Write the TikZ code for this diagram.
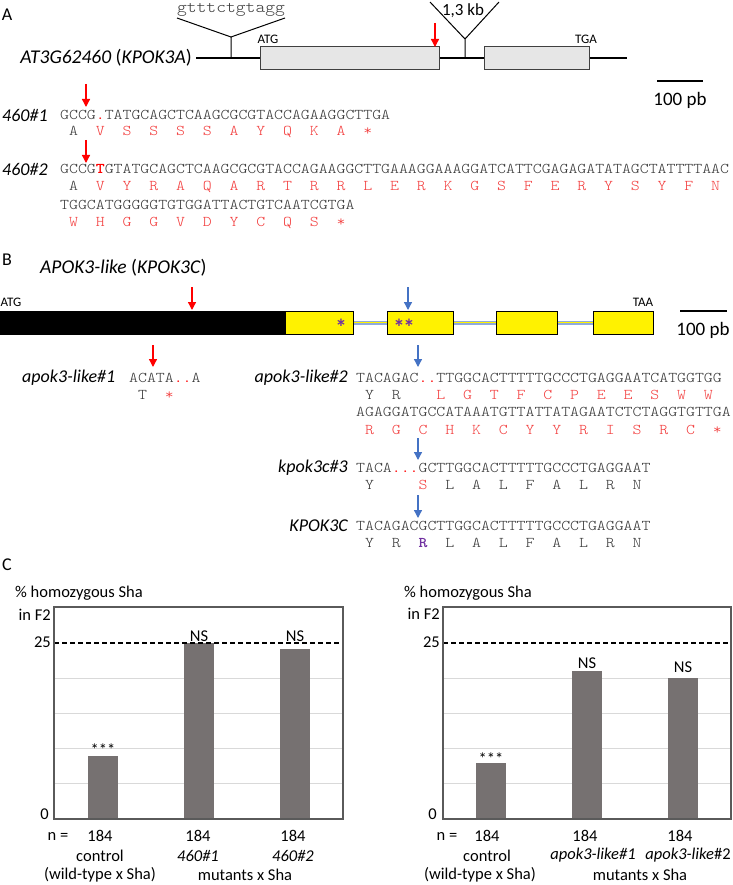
\documentclass[tikz,border=0pt]{standalone}
\usepackage{fontspec}
\setmainfont{Carlito}
\newfontfamily\seqfont[FakeStretch=1.14]{Latin Modern Mono Light}
\usetikzlibrary{arrows.meta}

\definecolor{seqgray}{RGB}{55,55,55}
\definecolor{mutred}{RGB}{255,0,0}
\definecolor{aared}{RGB}{242,60,60}
\definecolor{cutblue}{RGB}{68,114,196}
\definecolor{starpurple}{RGB}{112,48,160}
\definecolor{exongray}{RGB}{230,230,230}
\definecolor{intronblue}{RGB}{143,170,220}
\definecolor{bargray}{RGB}{118,113,113}
\definecolor{gridgray}{RGB}{217,217,217}
\definecolor{framegray}{RGB}{90,90,90}

\newcommand{\mutc}[1]{\textcolor{mutred}{#1}}
\newcommand{\aac}[1]{\textcolor{aared}{#1}}

\begin{document}
\frenchspacing
\begin{tikzpicture}
[x=1pt,y=-1pt,
  panelLbl/.style={inner sep=0pt,font=\fontsize{18}{20}\selectfont},
  geneLbl/.style={inner sep=0pt,font=\fontsize{19.5}{22}\selectfont\itshape},
  alleleLbl/.style={inner sep=0pt,font=\fontsize{18}{20}\selectfont\itshape},
  codonLbl/.style={inner sep=0pt,font=\fontsize{13}{15}\selectfont},
  seqLine/.style={anchor=west,inner sep=0pt,text=seqgray,font=\seqfont\fontsize{14.9}{16}\selectfont},
  geneLine/.style={line width=2.4pt},
  exonA/.style={draw=black!75,fill=exongray,line width=1pt,minimum height=23pt,inner sep=0pt},
  exonB/.style={draw=black,fill=yellow,line width=1pt,minimum height=23pt,inner sep=0pt},
  intron/.style={draw=intronblue,double=yellow,double distance=1.6pt,line width=1.2pt},
  cutRed/.style={mutred,line width=1.3pt,-{Triangle[length=8pt,width=8pt]}},
  cutBlue/.style={cutblue,line width=1.3pt,-{Triangle[length=8pt,width=8pt]}},
  scaleBar/.style={line width=2.2pt},
  starLbl/.style={inner sep=0pt,text=starpurple,font=\fontsize{23}{25}\selectfont\bfseries},
  chartTxt/.style={inner sep=0pt,font=\fontsize{16.5}{19}\selectfont},
  gridLine/.style={draw=gridgray,line width=1pt},
  refLine/.style={line width=1.5pt,dash pattern=on 5pt off 3pt},
  frameLine/.style={draw=framegray,line width=1.2pt},
  barFill/.style={fill=bargray}]
\useasboundingbox (0,0) rectangle (732,885);

%% ---------------- panel A : gene model
\node[panelLbl] (pA) at (7,15) {A};
\node[geneLbl,anchor=east] (kpok3a) at (192,58) {AT3G62460 \textup{(}KPOK3A\textup{)}};
\coordinate (geneAs) at (196,58);
\coordinate (geneAe) at (627,58);
\draw[geneLine] (geneAs) -- (geneAe);
\node[exonA,minimum width=179pt] (exA1) at (349.5,58.5) {};
\node[exonA,minimum width=105pt] (exA2) at (536.5,58.5) {};
\node[codonLbl] (atgA) at (268,39) {ATG};
\node[codonLbl] (tgaA) at (586,39) {TGA};

%% insertions
\coordinate (in1) at (231,58);
\coordinate (in1v) at (231,37);
\coordinate (in1l) at (177,18);
\coordinate (in1r) at (285,18);
\draw[line width=1pt] (in1) -- (in1v) (in1l) -- (in1v) -- (in1r);
\node[inner sep=0pt,text=seqgray,font=\seqfont\fontsize{16.4}{18}\selectfont] (in1seq) at (231,10) {gtttctgtagg};
\coordinate (in2) at (465,58);
\coordinate (in2v) at (465,39);
\coordinate (in2l) at (430,2);
\coordinate (in2r) at (499,2);
\draw[line width=1pt] (in2) -- (in2v) (in2l) -- (in2v) -- (in2r);
\node[inner sep=0pt,font=\fontsize{17}{19}\selectfont] (in2lbl) at (463,11) {1,3 kb};

\coordinate (cutAtop) at (435,23);
\coordinate (cutA) at (435,47);
\draw[cutRed] (cutAtop) -- (cutA);

\coordinate (sbA1) at (657,81);
\coordinate (sbA2) at (703,81);
\draw[scaleBar] (sbA1) -- (sbA2);
\node[inner sep=0pt,font=\fontsize{19}{21}\selectfont] (sbAlbl) at (680,100) {100 pb};

%% panel A : alleles
\node[alleleLbl,anchor=west] (a460n1) at (2,115) {460\#1};
\node[seqLine] (s460n1) at (60,115) {GCCG\mutc{.}TATGCAGCTCAAGCGCGTACCAGAAGGCTTGA};
\node[seqLine] (p460n1) at (60,132) {~A~~\aac{V~~S~~S~~S~~S~~A~~Y~~Q~~K~~A~~*}};
\coordinate (c460n1t) at (86,84);
\coordinate (c460n1) at (86,107);
\draw[cutRed] (c460n1t) -- (c460n1);

\node[alleleLbl,anchor=west] (a460n2) at (2,169) {460\#2};
\node[seqLine] (s460n2) at (60,169) {GCCG\mutc{\textbf{T}}GTATGCAGCTCAAGCGCGTACCAGAAGGCTTGAAAGGAAAGGATCATTCGAGAGATATAGCTATTTTAAC};
\node[seqLine] (p460n2) at (60,187) {~A~~\aac{V~~Y~~R~~A~~Q~~A~~R~~T~~R~~R~~L~~E~~R~~K~~G~~S~~F~~E~~R~~Y~~S~~Y~~F~~N}};
\node[seqLine] (s460n2b) at (60,205) {TGGCATGGGGGTGTGGATTACTGTCAATCGTGA};
\node[seqLine] (p460n2b) at (60,223) {~\aac{W~~H~~G~~G~~V~~D~~Y~~C~~Q~~S~~*}};
\coordinate (c460n2t) at (86,140);
\coordinate (c460n2) at (86,163);
\draw[cutRed] (c460n2t) -- (c460n2);

%% ---------------- panel B : gene model
\node[panelLbl] (pB) at (7,260) {B};
\node[geneLbl,anchor=west] (apok3) at (40,268) {APOK3-like \textup{(}KPOK3C\textup{)}};
\node[codonLbl] (atgB) at (11,302) {ATG};
\node[codonLbl] (taaB) at (643,302) {TAA};
\node[draw=black,fill=black,minimum width=285pt,minimum height=23pt,inner sep=0pt] (exB0) at (142.5,322.5) {};
\node[exonB,minimum width=68pt] (exB1) at (319,322.5) {};
\node[exonB,minimum width=66pt] (exB2) at (420,322.5) {};
\node[exonB,minimum width=61pt] (exB3) at (526.5,322.5) {};
\node[exonB,minimum width=60pt] (exB4) at (623,322.5) {};
\foreach \a/\b in {exB1/exB2, exB2/exB3, exB3/exB4}
{
  \draw[intron] (\a.east) -- (\b.west);
}
\node[starLbl] (star1) at (341,327) {*};
\node[starLbl] (star2) at (404,327) {*\kern-1.5pt*};

\coordinate (cutB1t) at (192,287);
\coordinate (cutB1) at (192,310);
\draw[cutRed] (cutB1t) -- (cutB1);
\coordinate (cutB2t) at (408,287);
\coordinate (cutB2) at (408,310);
\draw[cutBlue] (cutB2t) -- (cutB2);

\coordinate (sbB1) at (680,311);
\coordinate (sbB2) at (727,311);
\draw[scaleBar] (sbB1) -- (sbB2);
\node[inner sep=0pt,font=\fontsize{19}{21}\selectfont] (sbBlbl) at (703,330) {100 pb};

%% panel B : alleles
\node[alleleLbl,anchor=west] (al1) at (22,378) {apok3-like\#1};
\node[seqLine] (sl1) at (129,378) {ACATA\mutc{..}A};
\node[seqLine] (pl1) at (129,395) {~T~~\aac{*}};
\coordinate (cl1t) at (153,345);
\coordinate (cl1) at (153,367);
\draw[cutRed] (cl1t) -- (cl1);

\node[alleleLbl,anchor=east] (al2) at (348,378) {apok3-like\#2};
\node[seqLine] (sl2) at (356,378) {TACAGAC\mutc{..}TTGGCACTTTTTGCCCTGAGGAATCATGGTGG};
\node[seqLine] (pl2) at (356,395) {~Y~~R~~~~\aac{L~~G~~T~~F~~C~~P~~E~~E~~S~~W~~W}};
\node[seqLine] (sl2b) at (356,412) {AGAGGATGCCATAAATGTTATTATAGAATCTCTAGGTGTTGA};
\node[seqLine] (pl2b) at (356,429.5) {~\aac{R~~G~~C~~H~~K~~C~~Y~~Y~~R~~I~~S~~R~~C~~*}};
\coordinate (cl2t) at (418,345);
\coordinate (cl2) at (418,367);
\draw[cutBlue] (cl2t) -- (cl2);

\node[alleleLbl,anchor=east] (kc3) at (348,468) {kpok3c\#3};
\node[seqLine] (skc3) at (356,468) {TACA\mutc{...}GCTTGGCACTTTTTGCCCTGAGGAAT};
\node[seqLine] (pkc3) at (356,485) {~Y~~~~~\aac{S}~~L~~A~~L~~F~~A~~L~~R~~N};
\coordinate (ckc3t) at (418,438);
\coordinate (ckc3) at (418,460);
\draw[cutBlue] (ckc3t) -- (ckc3);

\node[alleleLbl,anchor=east] (kwt) at (348,526) {KPOK3C};
\node[seqLine] (skwt) at (356,526) {TACAGACGCTTGGCACTTTTTGCCCTGAGGAAT};
\node[seqLine] (pkwt) at (356,543) {~Y~~R~~\textcolor{starpurple}{\textbf{R}}~~L~~A~~L~~F~~A~~L~~R~~N};
\coordinate (ckwtt) at (418,495);
\coordinate (ckwt) at (418,518);
\draw[cutBlue] (ckwtt) -- (ckwt);

%% ---------------- panel C : segregation charts
\node[panelLbl] (pC) at (7,565) {C};

%% left chart
\node[chartTxt,anchor=west] (ttlL) at (15,593) {\% homozygous Sha};
\node[chartTxt,anchor=east] (f2L) at (51,615) {in F2};
\node[chartTxt,anchor=east] (y25L) at (51,642) {25};
\node[chartTxt,anchor=east] (y0L) at (49,814) {0};
\draw[gridLine] \foreach \v in {5,10,15,20} {(54,{819-7.04*\v}) -- (343,{819-7.04*\v})};
\foreach \cx/\val in {103/8.95, 199/25, 295/24.1}
{
  \fill[barFill] ({\cx-15},819) rectangle ({\cx+15},{819-7.04*\val});
}
\draw[refLine] (54,643) -- (343,643);
\draw[frameLine] (54,607) rectangle (343,819);
\node[chartTxt] (sigL1) at (103,750) {***};
\node[chartTxt] (sigL2) at (199,636) {NS};
\node[chartTxt] (sigL3) at (295,636) {NS};
\node[chartTxt] (nL) at (58,836) {n =};
\foreach \cx/\nm in {100/nL1, 198/nL2, 293/nL3}
{
  \node[chartTxt] (\nm) at (\cx,836) {184};
}
\node[chartTxt] (ctlL) at (100,855.5) {control};
\node[chartTxt,font=\fontsize{16.5}{19}\selectfont\itshape] (m1L) at (198,855.5) {460\#1};
\node[chartTxt,font=\fontsize{16.5}{19}\selectfont\itshape] (m2L) at (293,855.5) {460\#2};
\node[chartTxt] (wtL) at (100,875) {(wild-type x Sha)};
\node[chartTxt] (mxL) at (245,875) {mutants x Sha};

%% right chart
\node[chartTxt,anchor=west] (ttlR) at (404,593) {\% homozygous Sha};
\node[chartTxt,anchor=east] (f2R) at (440,614) {in F2};
\node[chartTxt,anchor=east] (y25R) at (440,642) {25};
\node[chartTxt,anchor=east] (y0R) at (437,814) {0};
\draw[gridLine] \foreach \v in {5,10,15,20} {(443,{819-7.04*\v}) -- (731,{819-7.04*\v})};
\foreach \cx/\val in {491/7.95, 587/21, 683/20}
{
  \fill[barFill] ({\cx-15},819) rectangle ({\cx+15},{819-7.04*\val});
}
\draw[refLine] (443,643) -- (731,643);
\draw[frameLine] (443,607) rectangle (731,819);
\node[chartTxt] (sigR1) at (491,759) {***};
\node[chartTxt] (sigR2) at (587,663) {NS};
\node[chartTxt] (sigR3) at (683,667) {NS};
\node[chartTxt] (nR) at (447,836) {n =};
\foreach \cx/\nm in {487/nR1, 585/nR2, 680/nR3}
{
  \node[chartTxt] (\nm) at (\cx,836) {184};
}
\node[chartTxt] (ctlR) at (487,855.5) {control};
\node[chartTxt,font=\fontsize{16.5}{19}\selectfont\itshape] (m1R) at (593,855.5) {apok3-like\#1};
\node[chartTxt,font=\fontsize{16.5}{19}\selectfont\itshape] (m2R) at (688,855.5) {apok3-like\textup{\#2}};
\node[chartTxt] (wtR) at (480,875) {(wild-type x Sha)};
\node[chartTxt] (mxR) at (640,875) {mutants x Sha};
\end{tikzpicture}
\end{document}
